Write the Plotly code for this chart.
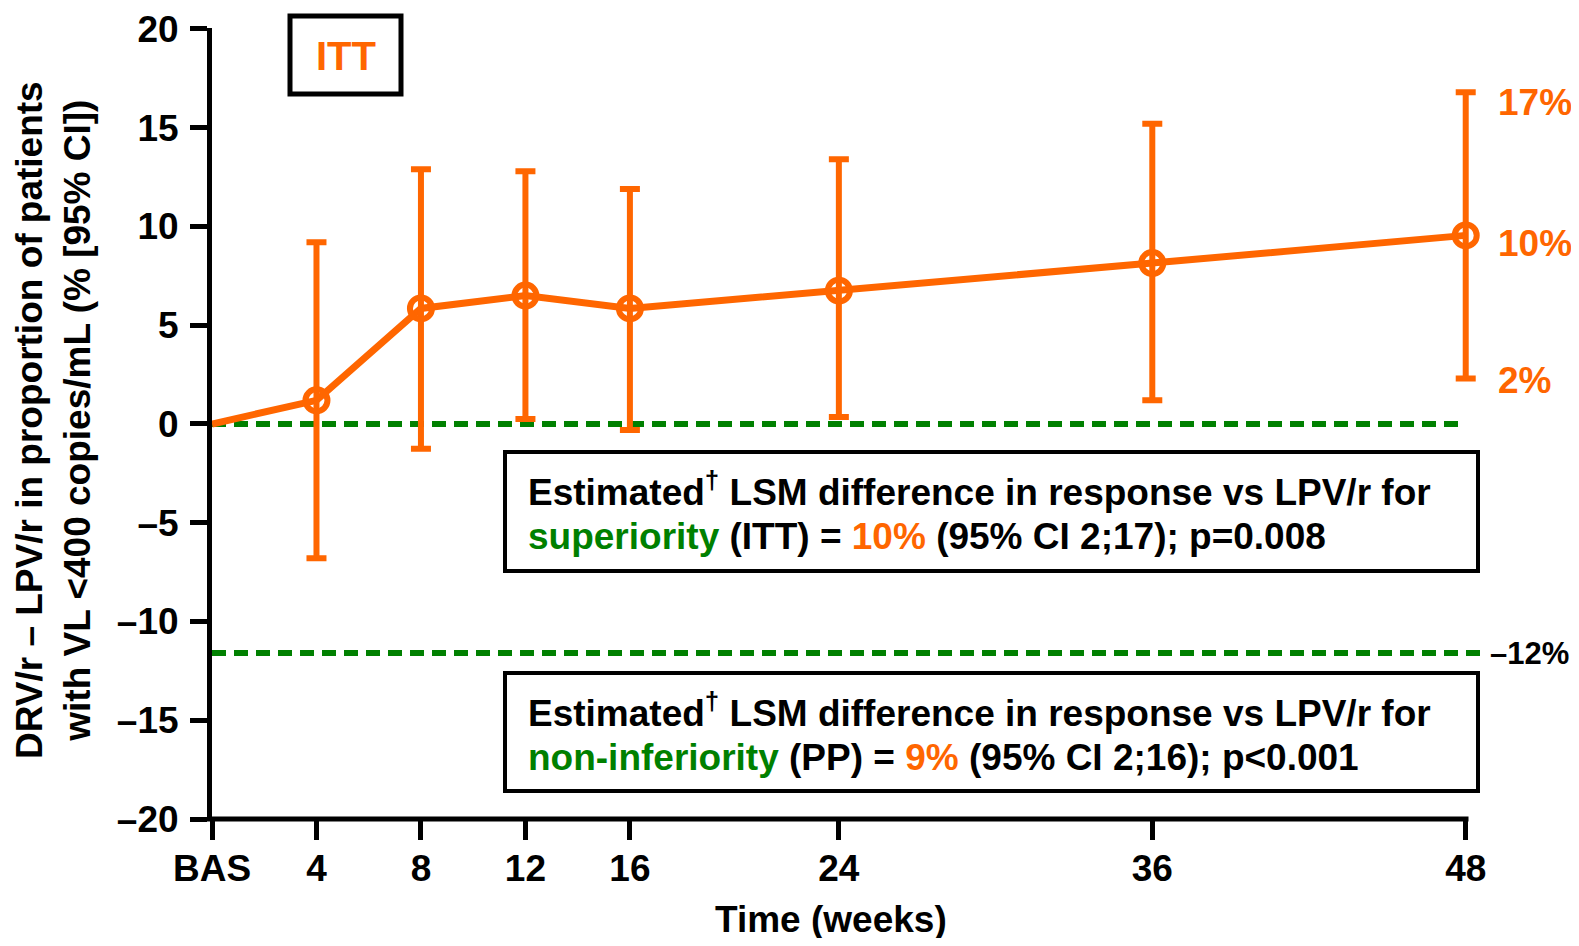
import plotly.graph_objects as go

# Difference DRV/r - LPV/r in proportion with VL <400 copies/mL (%), ITT
weeks = [0, 4, 8, 12, 16, 24, 36, 48]
week_labels = ["BAS", "4", "8", "12", "16", "24", "36", "48"]
lsm_diff = [0, 1.2, 5.85, 6.5, 5.85, 6.75, 8.15, 9.55]
ci_lower = [0, -6.8, -1.25, 0.25, -0.3, 0.35, 1.2, 2.3]
ci_upper = [0, 9.2, 12.9, 12.8, 11.9, 13.4, 15.2, 16.8]
y_ticks = [20, 15, 10, 5, 0, -5, -10, -15, -20]
noninf_margin = -11.6

# summary statistics shown in the boxes
itt_diff, itt_ci, itt_p = 10, (2, 17), "p=0.008"
pp_diff, pp_ci, pp_p = 9, (2, 16), "p<0.001"

ORANGE = "#FF6600"
GREEN = "#008000"
FONT = "Liberation Sans, Arial, sans-serif"

# page has an 8px body margin, so the figure is a bit smaller than the window
OFF = 8
W, H = 1579 - 2 * OFF, 946 - 2 * OFF
M_L, M_R, M_T, M_B = 204, 87, 20, 119
PLOT_L, PLOT_R = M_L, W - M_R
PLOT_T, PLOT_B = M_T, H - M_B


def px_x(p):
    # page pixel -> paper fraction
    return (p - OFF - PLOT_L) / (PLOT_R - PLOT_L)


def px_y(p):
    return (PLOT_B - (p - OFF)) / (PLOT_B - PLOT_T)


def dash_num(v):
    return f"\u2013{abs(v):g}" if v < 0 else f"{v:g}"


fig = go.Figure()

# Reference lines: zero and non-inferiority margin
fig.add_shape(type="line", xref="x", yref="y", x0=0, x1=weeks[-1], y0=0, y1=0,
              line=dict(color=GREEN, width=6, dash="14px,8px"), layer="below")
fig.add_shape(type="line", xref="paper", yref="y", x0=0, x1=px_x(1484),
              y0=noninf_margin, y1=noninf_margin,
              line=dict(color=GREEN, width=6, dash="14px,8px"), layer="below")

# x axis line (ends at week 48)
fig.add_shape(type="line", xref="paper", yref="paper", x0=px_x(207), x1=px_x(1468.5),
              y0=0, y1=0, line=dict(color="black", width=5), layer="above")

# Main line
fig.add_trace(go.Scatter(
    x=weeks, y=lsm_diff, mode="lines",
    line=dict(color=ORANGE, width=7),
    hoverinfo="skip", showlegend=False
))

# Points with 95% CI
fig.add_trace(go.Scatter(
    x=weeks[1:], y=lsm_diff[1:], mode="markers",
    marker=dict(symbol="circle-open", size=22, color=ORANGE,
                line=dict(width=6, color=ORANGE)),
    error_y=dict(type="data", symmetric=False,
                 array=[u - m for u, m in zip(ci_upper[1:], lsm_diff[1:])],
                 arrayminus=[m - l for l, m in zip(ci_lower[1:], lsm_diff[1:])],
                 color=ORANGE, thickness=6, width=10),
    showlegend=False, cliponaxis=False
))

annotations = []

# Labels for the week 48 estimate
for val, dy in zip([ci_upper[-1], lsm_diff[-1], ci_lower[-1]], [-10, -8, -2]):
    annotations.append(dict(
        x=weeks[-1], y=val, xref="x", yref="y", xanchor="left", yanchor="middle",
        xshift=30, yshift=dy, showarrow=False, text=f"{round(val)}%",
        font=dict(family=FONT, size=37, color=ORANGE, weight="bold")
    ))
annotations.append(dict(
    x=px_x(1488), y=noninf_margin, xref="paper", yref="y", xanchor="left", yanchor="middle",
    showarrow=False, text=f"{dash_num(round(noninf_margin))}%",
    font=dict(family=FONT, size=31, color="black", weight="bold")
))

# ITT label
fig.add_shape(type="rect", xref="paper", yref="paper",
              x0=px_x(290), x1=px_x(401), y0=px_y(94), y1=px_y(16),
              line=dict(color="black", width=5), fillcolor="white")
annotations.append(dict(
    x=px_x(345.5), y=px_y(56), xref="paper", yref="paper", xanchor="center",
    yanchor="middle", showarrow=False,
    text="ITT", font=dict(family=FONT, size=40, color=ORANGE, weight="bold")
))

# Summary boxes
boxes = [
    (452, 571, "superiority", "ITT", itt_diff, itt_ci, itt_p),
    (673, 791, "non-inferiority", "PP", pp_diff, pp_ci, pp_p),
]
for top, bot, kind, pop, d, ci, p in boxes:
    fig.add_shape(type="rect", xref="paper", yref="paper",
                  x0=px_x(505), x1=px_x(1478), y0=px_y(bot), y1=px_y(top),
                  line=dict(color="black", width=4), fillcolor="white", layer="above")
    line1 = "Estimated<sup>\u2020</sup> LSM difference in response vs LPV/r for"
    line2 = (f"<span style='color:{GREEN}'>{kind}</span> ({pop}) = "
             f"<span style='color:{ORANGE}'>{d}%</span> (95% CI {ci[0]};{ci[1]}); {p}")
    for txt, yc in [(line1, top + 37), (line2, top + 84)]:
        annotations.append(dict(
            x=px_x(526), y=px_y(yc), xref="paper", yref="paper",
            xanchor="left", yanchor="middle", showarrow=False, text=txt,
            font=dict(family=FONT, size=37, color="black", weight="bold")
        ))

# Axis titles
annotations.append(dict(
    x=px_x(53), y=px_y(420), xref="paper", yref="paper", textangle=-90,
    xanchor="center", yanchor="middle", showarrow=False,
    text="DRV/r \u2013 LPV/r in proportion of patients<br>with VL <400 copies/mL (% [95% CI])",
    font=dict(family=FONT, size=37, color="black", weight="bold")
))
annotations.append(dict(
    x=px_x(831), y=px_y(919), xref="paper", yref="paper",
    xanchor="center", yanchor="middle", showarrow=False,
    text="Time (weeks)",
    font=dict(family=FONT, size=37, color="black", weight="bold")
))

tickfont = dict(family=FONT, size=37, color="black", weight="bold")
fig.update_layout(
    width=W, height=H,
    margin=dict(l=M_L, r=M_R, t=M_T, b=M_B, autoexpand=False),
    paper_bgcolor="white", plot_bgcolor="white",
    showlegend=False,
    annotations=annotations,
    xaxis=dict(range=[0, 48.7], tickvals=weeks, ticktext=week_labels,
               ticks="outside", ticklen=20, tickwidth=5, tickcolor="black",
               showline=False, showgrid=False, zeroline=False, tickfont=tickfont,
               ticklabelstandoff=-3, automargin=False),
    yaxis=dict(range=[-20, 20.05], tickvals=y_ticks, ticktext=[dash_num(v) for v in y_ticks],
               ticks="outside", ticklen=17, tickwidth=5, tickcolor="black",
               showline=True, linewidth=5, linecolor="black",
               showgrid=False, zeroline=False, tickfont=tickfont,
               ticklabelstandoff=4, automargin=False),
)

fig.write_html("out.html")
